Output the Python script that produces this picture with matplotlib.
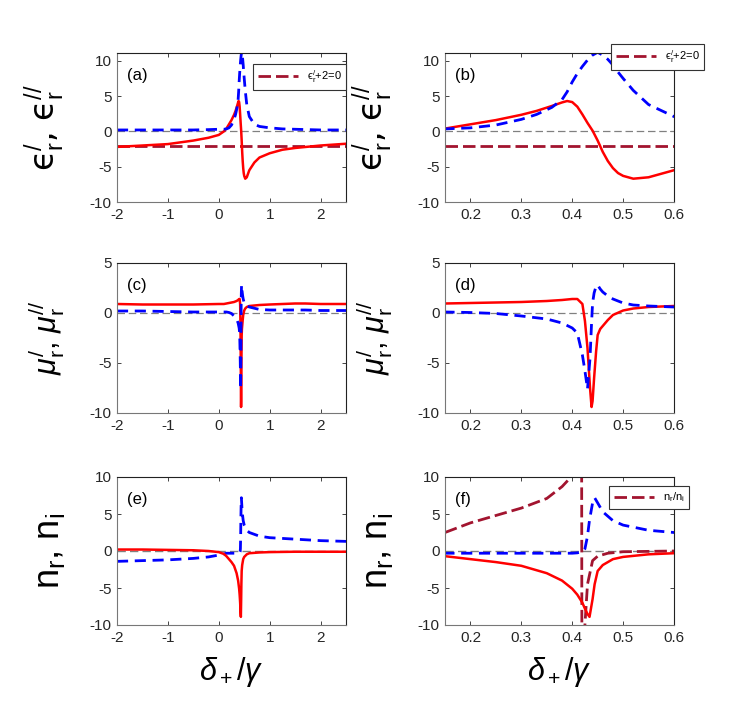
import numpy as np
import matplotlib
matplotlib.use("Agg")
import matplotlib.pyplot as plt

plt.rcParams['font.family'] = ['Liberation Sans', 'DejaVu Sans']
plt.rcParams['mathtext.fontset'] = 'custom'
plt.rcParams['mathtext.rm'] = 'Liberation Sans'
plt.rcParams['mathtext.it'] = 'Liberation Sans:italic'
plt.rcParams['mathtext.fallback'] = 'cm'
plt.rcParams['axes.unicode_minus'] = False

# permittivity (panels a, b)
eps_x = [-2, -1.5, -1, -0.5, -0.2, 0, 0.1, 0.15, 0.2, 0.25, 0.3, 0.33, 0.36, 0.38, 0.39,
         0.40, 0.41, 0.42, 0.43, 0.44, 0.45, 0.46, 0.47, 0.48, 0.49, 0.50, 0.52, 0.55,
         0.6, 0.7, 0.8, 1.0, 1.25, 1.5, 2.0, 2.5]
eps_re = [-2.2, -2.0, -1.8, -1.3, -0.9, -0.5, 0.0, 0.4, 1.0, 1.6, 2.35, 2.9, 3.6, 4.1, 4.3,
          4.15, 3.5, 2.4, 1.2, 0.1, -1.3, -2.9, -4.2, -5.2, -5.9, -6.3, -6.7, -6.5,
          -5.5, -4.4, -3.7, -3.1, -2.6, -2.35, -2.0, -1.75]
eps_im = [0.2, 0.2, 0.2, 0.2, 0.25, 0.3, 0.3, 0.35, 0.5, 0.9, 1.7, 2.4, 3.4, 4.5, 5.6,
          7.0, 8.2, 9.2, 10.1, 10.8, 11.2, 10.8, 10.2, 9.4, 8.4, 7.5, 5.8, 3.8,
          2.1, 1.0, 0.7, 0.5, 0.35, 0.3, 0.2, 0.2]
eps_ref = -2

# permeability (panels c, d)
mu_x = [-2, -1.5, -1, -0.5, 0, 0.1, 0.15, 0.2, 0.25, 0.3, 0.35, 0.38, 0.40, 0.41, 0.42,
        0.425, 0.43, 0.435, 0.438, 0.44, 0.443, 0.447, 0.45, 0.455, 0.46, 0.47, 0.48,
        0.5, 0.52, 0.55, 0.6, 0.8, 1.0, 1.5, 1.7, 2.0, 2.5]
mu_re = [0.9, 0.85, 0.85, 0.85, 0.9, 0.9, 0.95, 1.0, 1.05, 1.1, 1.2, 1.3, 1.4, 1.4, 0.9,
         -0.8, -3.5, -7.5, -9.4, -8.8, -6.5, -3.8, -2.2, -1.6, -1.3, -0.7, -0.2,
         0.25, 0.45, 0.6, 0.7, 0.8, 0.85, 0.95, 0.95, 0.9, 0.9]
mu_im = [0.2, 0.2, 0.15, 0.1, 0.1, 0.1, 0.1, 0.05, -0.05, -0.3, -0.6, -1.0, -1.5, -2.0, -4.2,
         -5.8, -7.6, -4.5, -1.0, 1.0, 2.0, 2.7, 2.8, 2.4, 2.1, 1.7, 1.4,
         1.0, 0.8, 0.7, 0.6, 0.35, 0.3, 0.3, 0.3, 0.25, 0.25]

# refractive index (panels e, f)
n_x = [-2, -1.5, -1, -0.5, -0.2, 0, 0.1, 0.15, 0.2, 0.25, 0.3, 0.35, 0.38, 0.40, 0.41,
       0.42, 0.425, 0.43, 0.434, 0.44, 0.444, 0.45, 0.46, 0.48, 0.5, 0.55, 0.6, 0.8,
       1.0, 1.5, 2.0, 2.5]
n_red = [0.2, 0.2, 0.15, 0.1, 0.0, -0.15, -0.4, -0.7, -1.1, -1.5, -2.0, -3.0, -4.0, -5.1, -5.9,
         -7.0, -7.8, -8.5, -8.9, -6.5, -4.5, -2.7, -1.9, -1.1, -0.8, -0.45, -0.3, -0.2,
         -0.15, -0.1, -0.1, -0.1]
n_blue = [-1.4, -1.3, -1.2, -1.0, -0.8, -0.55, -0.4, -0.3, -0.3, -0.3, -0.3, -0.3, -0.3, -0.3, -0.25,
          -0.1, 0.3, 2.0, 4.2, 6.5, 7.2, 6.5, 5.3, 4.1, 3.5, 2.8, 2.5, 2.0,
          1.8, 1.6, 1.4, 1.3]
ratio_x = [0.15, 0.2, 0.25, 0.3, 0.35, 0.38, 0.395, 0.41, 0.418, 0.4195, 0.424, 0.43,
           0.44, 0.45, 0.47, 0.5, 0.55, 0.6]
ratio_y = [2.5, 3.8, 4.8, 5.8, 7.1, 8.7, 9.8, 13, 40, -40, -11, -4.5,
           -1.3, -0.7, -0.3, -0.1, -0.05, 0.0]

RED = '#ff0000'
BLUE = '#0000ff'
DRED = '#a2142f'

fig = plt.figure(figsize=(7.47, 7.05), dpi=100)
W, H = 747, 705
cols = [117, 445]
rows = [(53, 202), (263, 413), (477, 625)]
axes = []
for (top, bot) in rows:
    for left in cols:
        ax = fig.add_axes([left / W, 1 - bot / H, 229 / W, (bot - top) / H])
        axes.append(ax)
ax_a, ax_b, ax_c, ax_d, ax_e, ax_f = axes


def style(ax, xlim, ylim, yticks, xticks):
    ax.set_xlim(*xlim)
    ax.set_ylim(*ylim)
    ax.set_yticks(yticks)
    ax.set_xticks(xticks)
    ax.tick_params(direction='in', top=True, right=True, length=3, width=0.6,
                   labelsize=11, colors='#262626', pad=4)
    for s in ['left', 'bottom']:
        ax.spines[s].set_color('#777777')
    for s in ['top', 'right']:
        ax.spines[s].set_color('#222222')
    for s in ax.spines.values():
        s.set_linewidth(0.8)


dash_ref = (4.5, 1.8)
dash_b = (4.0, 2.4)
xt_wide = [-2, -1, 0, 1, 2]
xt_zoom = [0.2, 0.3, 0.4, 0.5, 0.6]

eps_lab = "ϵ$^{/}_{\\rm r}$, ϵ$^{//}_{\\rm r}$"
for ax, xl, xt in [(ax_a, (-2, 2.5), xt_wide), (ax_b, (0.15, 0.6), xt_zoom)]:
    ax.axhline(0, color='#808080', lw=0.9, dashes=(6, 3))
    ax.axhline(eps_ref, color=DRED, lw=2, dashes=dash_ref, label="ϵ$^{/}_{\\rm r}$+2=0")
    ax.plot(eps_x, eps_re, color=RED, lw=1.8)
    ax.plot(eps_x, eps_im, color=BLUE, lw=2, dashes=dash_b)
    style(ax, xl, (-10, 11.1), [-10, -5, 0, 5, 10], xt)
    ax.set_ylabel(eps_lab, fontsize=24, family=['DejaVu Sans'])

for ax, xl, xt in [(ax_c, (-2, 2.5), xt_wide), (ax_d, (0.15, 0.6), xt_zoom)]:
    ax.axhline(0, color='#808080', lw=0.9, dashes=(6, 3))
    ax.plot(mu_x, mu_re, color=RED, lw=1.8)
    ax.plot(mu_x, mu_im, color=BLUE, lw=2, dashes=dash_b)
    style(ax, xl, (-10, 5), [-10, -5, 0, 5], xt)
    ax.set_ylabel(r"$\mu^{/}_{\rm r}$, $\mu^{//}_{\rm r}$", fontsize=22)

for ax, xl, xt in [(ax_e, (-2, 2.5), xt_wide), (ax_f, (0.15, 0.6), xt_zoom)]:
    ax.axhline(0, color='#808080', lw=1.0, dashes=(6, 3))
    if ax is ax_f:
        ax.plot(ratio_x, ratio_y, color=DRED, lw=2, dashes=dash_ref,
                label=r"n$_{\rm r}$/n$_{\rm i}$")
    ax.plot(n_x, n_blue, color=BLUE, lw=2, dashes=dash_b)
    ax.plot(n_x, n_red, color=RED, lw=1.8)
    style(ax, xl, (-10, 10), [-10, -5, 0, 5, 10], xt)
    ax.set_ylabel(r"n$_{\rm r}$, n$_{\rm i}$", fontsize=26)
    ax.set_xlabel(r"$\delta_+/\gamma$", fontsize=22)
    ax.xaxis.set_label_coords(0.5, -0.2)

for ax in axes:
    ax.yaxis.set_label_coords(-0.22, 0.5)

for ax, txt in zip(axes, ['(a)', '(b)', '(c)', '(d)', '(e)', '(f)']):
    ax.text(0.045, 0.85, txt, transform=ax.transAxes, fontsize=12, va='center')

leg_kw = dict(fontsize=8, frameon=True, fancybox=False, framealpha=1,
              edgecolor='#333333', handlelength=3.6, borderpad=0.45, loc='upper right',
              bbox_transform=fig.transFigure)
for ax, (px, py) in [(ax_a, (352, 58)), (ax_b, (710, 38)), (ax_f, (695, 480))]:
    lg = ax.legend(bbox_to_anchor=(px / W, 1 - py / H), **leg_kw)
    lg.get_frame().set_linewidth(0.8)

fig.savefig('out.png', dpi=100)
